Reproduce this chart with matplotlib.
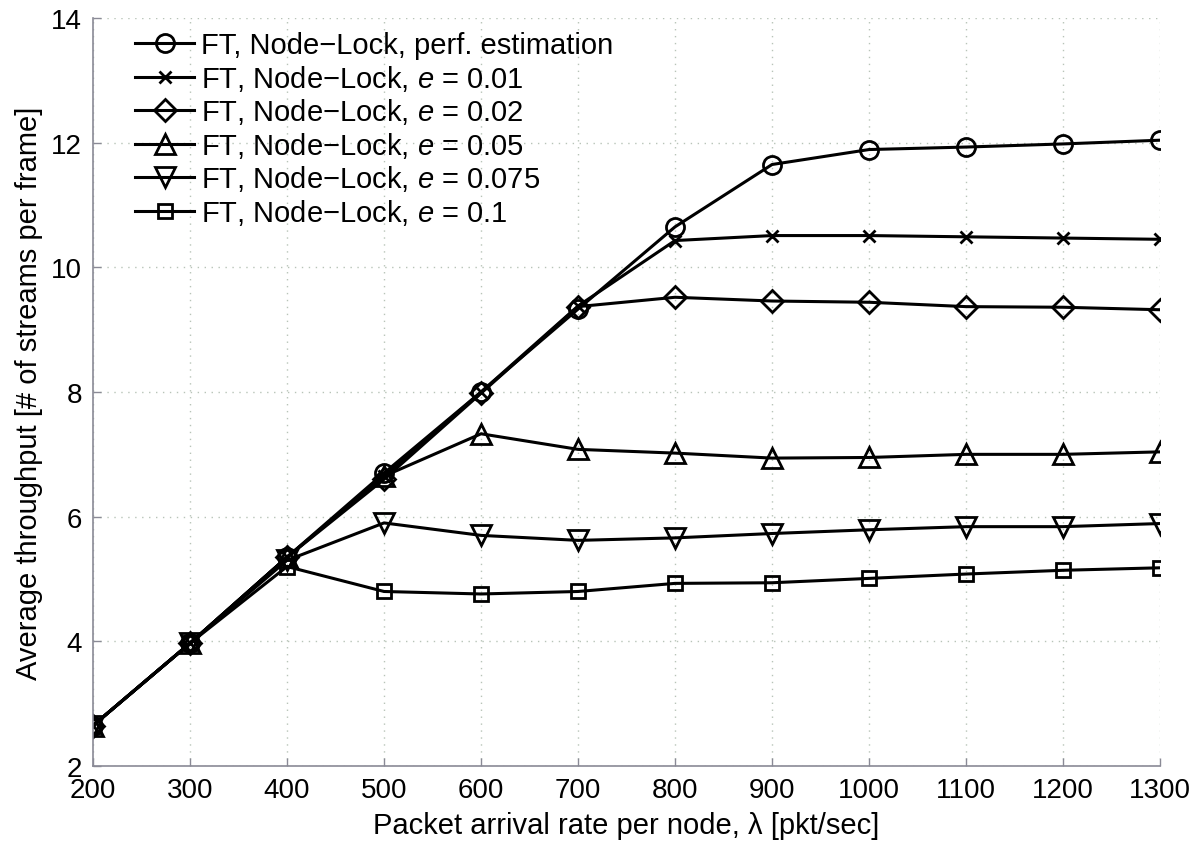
import matplotlib
matplotlib.use('Agg')
import matplotlib.pyplot as plt
import numpy as np

plt.rcParams['font.family'] = ['Liberation Sans', 'DejaVu Sans']
plt.rcParams['mathtext.fontset'] = 'custom'
plt.rcParams['mathtext.rm'] = 'Liberation Sans'
plt.rcParams['mathtext.it'] = 'Liberation Sans:italic'

# data
rate = [200, 300, 400, 500, 600, 700, 800, 900, 1000, 1100, 1200, 1300]

perf_est = [2.65, 3.97, 5.35, 6.70, 8.00, 9.33, 10.65, 11.65, 11.89, 11.93, 11.98, 12.04]
e_001 = [2.65, 3.97, 5.35, 6.65, 8.00, 9.38, 10.43, 10.51, 10.51, 10.49, 10.47, 10.45]
e_002 = [2.65, 3.97, 5.35, 6.60, 7.98, 9.37, 9.52, 9.46, 9.44, 9.37, 9.36, 9.32]
e_005 = [2.65, 3.97, 5.35, 6.65, 7.33, 7.08, 7.02, 6.94, 6.95, 7.00, 7.00, 7.04]
e_0075 = [2.65, 3.97, 5.30, 5.90, 5.70, 5.62, 5.66, 5.73, 5.79, 5.84, 5.84, 5.89]
e_01 = [2.65, 3.97, 5.20, 4.80, 4.76, 4.80, 4.93, 4.94, 5.01, 5.08, 5.14, 5.18]

labels = ['FT, Node\u2212Lock, perf. estimation',
          'FT, Node\u2212Lock, $e$ = 0.01',
          'FT, Node\u2212Lock, $e$ = 0.02',
          'FT, Node\u2212Lock, $e$ = 0.05',
          'FT, Node\u2212Lock, $e$ = 0.075',
          'FT, Node\u2212Lock, $e$ = 0.1']
series = [perf_est, e_001, e_002, e_005, e_0075, e_01]
markers = ['o', 'x', 'D', '^', 'v', 's']
msizes = [13, 8, 11, 15, 15, 10]

fig = plt.figure(figsize=(11.99, 8.53), dpi=100)
ax = fig.add_axes([0.0776, 0.1008, 0.8899, 0.8769])

for ys, m, ms, lab in zip(series, markers, msizes, labels):
    ax.plot(rate, ys, color='black', lw=2.2, marker=m, markersize=ms,
            markerfacecolor='none', markeredgecolor='black',
            markeredgewidth=2.0, label=lab)

ax.set_xlim(200, 1300)
ax.set_ylim(2, 14)
ax.set_xticks(np.arange(200, 1301, 100))
ax.set_yticks(np.arange(2, 15, 2))
ax.grid(True, linestyle=(0, (1, 4)), color='#b8c4b8', linewidth=1.0)

for s in ['top', 'right']:
    ax.spines[s].set_visible(False)
for s in ['left', 'bottom']:
    ax.spines[s].set_color('#8a8a96')
    ax.spines[s].set_linewidth(1.2)
ax.tick_params(direction='in', length=6, width=1, color='#8a8a96',
               labelsize=20, pad=8)

ax.set_xlabel('Packet arrival rate per node, \u03bb [pkt/sec]', fontsize=21, labelpad=6)
ax.set_ylabel('Average throughput [# of streams per frame]', fontsize=21, labelpad=6)

leg = ax.legend(loc='upper left', bbox_to_anchor=(0.039, 0.982), frameon=False,
                fontsize=21, handlelength=2.05, handletextpad=0.24,
                labelspacing=0.12, borderaxespad=0.0, borderpad=0.0)

fig.savefig('out.png', dpi=100)
